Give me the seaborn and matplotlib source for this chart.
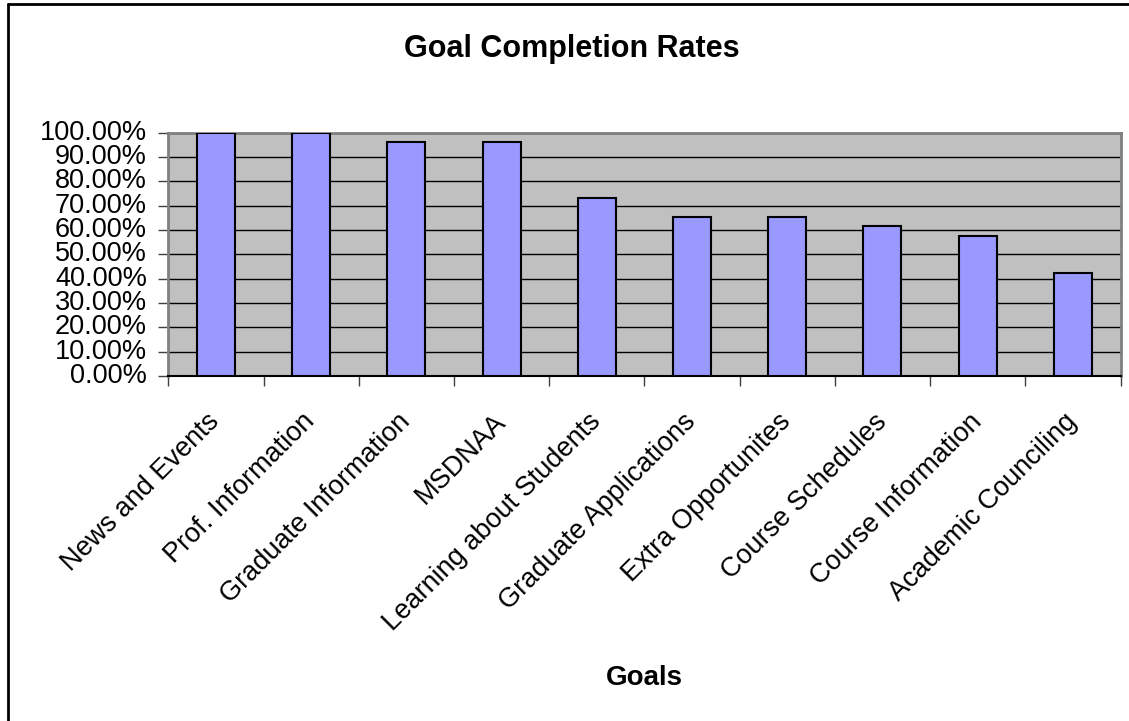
import matplotlib
matplotlib.use("Agg")
import matplotlib.pyplot as plt
import matplotlib.ticker as mticker
from matplotlib.lines import Line2D
import numpy as np
import pandas as pd
import seaborn as sns

goals = ["News and Events", "Prof. Information", "Graduate Information", "MSDNAA",
         "Learning about Students", "Graduate Applications", "Extra Opportunites",
         "Course Schedules", "Course Information", "Academic Counciling"]
rates = [1.0, 1.0, 0.9615, 0.9615, 0.7308, 0.6538, 0.6538, 0.6154, 0.5769, 0.4231]
y_ticks = [0.0, 0.1, 0.2, 0.3, 0.4, 0.5, 0.6, 0.7, 0.8, 0.9, 1.0]

df = pd.DataFrame({"Goal": goals, "Rate": rates})

sns.set_style("white")
plt.rcParams['font.family'] = ['Liberation Sans', 'DejaVu Sans']
plt.rcParams['text.color'] = 'black'
plt.rcParams['xtick.color'] = 'black'
plt.rcParams['ytick.color'] = 'black'

fig = plt.figure(figsize=(11.29, 7.21), dpi=100)
ax = fig.add_axes([168.3 / 1129, 1 - 376 / 721, (1120.5 - 168.3) / 1129, (376 - 132.7) / 721])
ax.set_facecolor("#C0C0C0")

sns.barplot(data=df, x="Goal", y="Rate", color="#9999FF", saturation=1,
            width=0.4, edgecolor="black", linewidth=1.5, ax=ax, zorder=3)

ax.set_xlim(-0.5, len(goals) - 0.5)
ax.set_ylim(0, 1.0)
ax.set_yticks(y_ticks)
ax.yaxis.set_major_formatter(mticker.FuncFormatter(lambda v, p: f"{v * 100:.2f}%"))
ax.yaxis.grid(True, color="black", linewidth=1)
ax.set_axisbelow(True)

# category labels sit at the centres, tick marks go between categories
ax.set_xticks(range(len(goals)))
ax.set_xticklabels(goals, rotation=45, ha="right", va="center", rotation_mode="anchor")
ax.set_xticks(np.arange(-0.5, len(goals)), minor=True)
ax.tick_params(axis="x", which="major", length=0, pad=30, labelsize=19.5, labelcolor="black")
ax.tick_params(axis="x", which="minor", length=7.5, width=1, color="#404040", direction="out", bottom=True)
ax.tick_params(axis="y", which="major", length=7.5, width=1, color="#404040", direction="out",
               left=True, labelsize=19.5, labelcolor="black", pad=8)
for lab in ax.get_yticklabels():
    lab.set_verticalalignment("center")

ax.set_xlabel("")
ax.set_ylabel("")
for side in ["top", "right", "left"]:
    ax.spines[side].set_color("#808080")
    ax.spines[side].set_linewidth(2)
ax.spines["bottom"].set_color("black")
ax.spines["bottom"].set_linewidth(1.5)

fig.text(572 / 1129, 1 - 57 / 721, "Goal Completion Rates", ha="center", va="baseline",
         fontsize=22, fontweight="bold", color="black")
fig.text(644 / 1129, 1 - 685 / 721, "Goals", ha="center", va="baseline",
         fontsize=20, fontweight="bold", color="black")

# chart frame (only top and left edges are inside the picture)
fig.add_artist(Line2D([7.5 / 1129, 7.5 / 1129], [0, 1 - 4 / 721], transform=fig.transFigure,
                      color="black", linewidth=2))
fig.add_artist(Line2D([7.5 / 1129, 1], [1 - 4 / 721, 1 - 4 / 721], transform=fig.transFigure,
                      color="black", linewidth=2))

fig.savefig("out.png", dpi=100, facecolor="white")
